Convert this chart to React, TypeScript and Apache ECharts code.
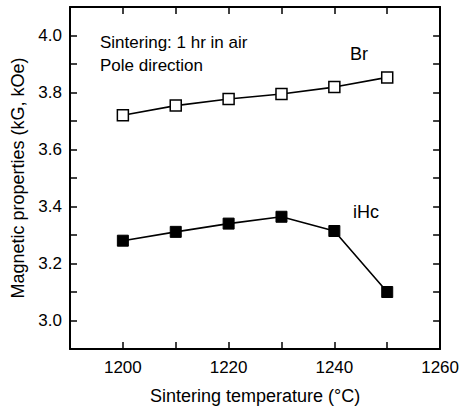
import React, { useEffect, useRef } from "react";
import * as echarts from "echarts";

const temps = [1200, 1210, 1220, 1230, 1240, 1250];
const brValues = [3.72, 3.754, 3.777, 3.795, 3.819, 3.853];
const ihcValues = [3.28, 3.311, 3.34, 3.364, 3.314, 3.1];
const xMin = 1190;
const xMax = 1260;
const xStep = 10;
const yMin = 2.9;
const yMax = 4.1;
const yStep = 0.1;

const FONT = "Liberation Sans, Arial, sans-serif";
const INK = "#000";

export default function App() {
  const ref = useRef<HTMLDivElement>(null);
  useEffect(() => {
    if (!ref.current) return;
    const chart = echarts.init(ref.current, null, { renderer: "svg" });
    const note = (text: string, left: number, top: number, size: number) => ({
      text, left, top, padding: 0,
      textStyle: { color: "#000", fontFamily: FONT, fontSize: size, fontWeight: "normal" },
    });
    chart.setOption({
      animation: false,
      backgroundColor: "#fff",
      title: [
        note("Sintering: 1 hr in air", 100, 34, 17),
        note("Pole direction", 100, 57, 17),
        note("Br", 350, 45, 18),
        note("iHc", 353, 203, 18),
      ],
      grid: { left: 70, right: 21, top: 7, bottom: 59, containLabel: false },
      xAxis: [
        {
          type: "value", min: xMin, max: xMax, interval: xStep, position: "bottom",
          splitLine: { show: false },
          axisLine: { show: true, onZero: false, lineStyle: { color: INK, width: 2 } },
          axisTick: { show: true, inside: true, length: 7, lineStyle: { color: INK, width: 1.5 } },
          axisLabel: {
            color: "#000", fontFamily: FONT, fontSize: 17, margin: 10,
            formatter: (v: number) => (Math.round(v) % 20 === 0 ? String(Math.round(v)) : ""),
          },
          name: "Sintering temperature (°C)", nameLocation: "middle", nameGap: 38,
          nameTextStyle: { color: "#000", fontFamily: FONT, fontSize: 18 },
        },
        {
          type: "value", min: xMin, max: xMax, interval: xStep, position: "top",
          splitLine: { show: false },
          axisLine: { show: true, onZero: false, lineStyle: { color: INK, width: 2 } },
          axisTick: { show: true, inside: true, length: 7, lineStyle: { color: INK, width: 1.5 } },
          axisLabel: { show: false },
        },
      ],
      yAxis: [
        {
          type: "value", min: yMin, max: yMax, interval: yStep, position: "left",
          splitLine: { show: false },
          axisLine: { show: true, onZero: false, lineStyle: { color: INK, width: 2 } },
          axisTick: { show: true, inside: true, length: 7, lineStyle: { color: INK, width: 1.5 } },
          axisLabel: {
            color: "#000", fontFamily: FONT, fontSize: 17, margin: 8,
            formatter: (v: number) => {
              const k = Math.round(v * 10);
              return k % 2 === 0 && k >= 30 && k <= 40 ? (k / 10).toFixed(1) : "";
            },
          },
          name: "Magnetic properties (kG, kOe)", nameLocation: "middle", nameGap: 41,
          nameTextStyle: { color: "#000", fontFamily: FONT, fontSize: 18 },
        },
        {
          type: "value", min: yMin, max: yMax, interval: yStep, position: "right",
          splitLine: { show: false },
          axisLine: { show: true, onZero: false, lineStyle: { color: INK, width: 2 } },
          axisTick: { show: true, inside: true, length: 7, lineStyle: { color: INK, width: 1.5 } },
          axisLabel: { show: false },
        },
      ],
      series: [
        {
          name: "Br", type: "line", xAxisIndex: 0, yAxisIndex: 0,
          data: temps.map((t, i) => [t, brValues[i]]),
          symbol: "rect", symbolSize: 11,
          lineStyle: { color: "#000", width: 1.6 },
          itemStyle: { color: "#fff", borderColor: "#000", borderWidth: 1.5 },
        },
        {
          name: "iHc", type: "line", xAxisIndex: 0, yAxisIndex: 0,
          data: temps.map((t, i) => [t, ihcValues[i]]),
          symbol: "rect", symbolSize: 11,
          lineStyle: { color: "#000", width: 1.6 },
          itemStyle: { color: "#000", borderColor: "#000", borderWidth: 1 },
        },
      ],
    });
    return () => chart.dispose();
  }, []);
  return <div ref={ref} style={{ position: "absolute", left: 0, top: 0, width: 462, height: 410 }} />;
}
